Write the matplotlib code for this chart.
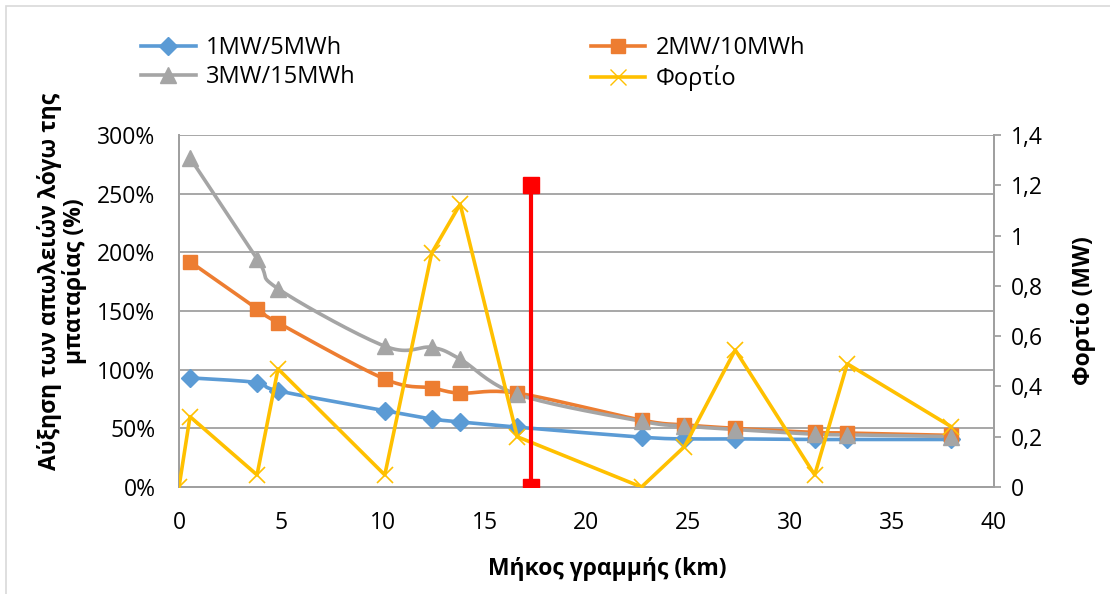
import numpy as np
import matplotlib
matplotlib.use("Agg")
import matplotlib.pyplot as plt
from matplotlib.lines import Line2D
from matplotlib.ticker import FuncFormatter, MultipleLocator

plt.rcParams['font.family'] = ['Open Sans', 'DejaVu Sans']

# line length (km) for each battery case
length_km = [0.54, 3.83, 4.86, 10.1, 12.4, 13.8, 16.6, 22.7, 24.8, 27.3, 31.2, 32.8, 37.9]
loss_1mw = [93, 89, 82, 65, 58, 55.5, 51, 42.5, 41, 41, 40.5, 40.5, 40.5]
loss_2mw = [192, 152, 140, 92, 84.5, 80, 80, 57, 53, 50, 46.5, 46, 44]
loss_3mw = [280.5, 194.5, 169, 120, 119, 109, 79, 56, 52, 49, 45, 44.5, 43]

load_km = [0, 0.54, 3.83, 4.86, 10.1, 12.4, 13.8, 16.6, 22.7, 24.8, 27.3, 31.2, 32.8, 37.9]
load_mw = [0, 0.28, 0.048, 0.47, 0.048, 0.93, 1.125, 0.2, 0, 0.16, 0.545, 0.048, 0.49, 0.24]

marker_km = [17.28, 17.28]
marker_mw = [0, 1.2]

labels = ['1MW/5MWh', '2MW/10MWh', '3MW/15MWh', 'Φορτίο']

W, H = 1110, 594
fig = plt.figure(figsize=(W / 100, H / 100), dpi=100)
ax_box = [179 / W, 1 - 487 / H, (994 - 179) / W, (487 - 135) / H]
ax = fig.add_axes(ax_box)
ax2 = ax.twinx()

xmax, ymax = 40, 300
sx = ax_box[2] * W / xmax
sy = ax_box[3] * H / ymax


def smooth(x, y, n=20):
    # Excel-like smoothed line (Catmull-Rom style bezier), in pixel space
    p = np.column_stack([np.asarray(x) * sx, np.asarray(y) * sy])
    pts = [p[0]]
    for i in range(len(p) - 1):
        p0 = p[i - 1] if i > 0 else p[i]
        p3 = p[i + 2] if i + 2 < len(p) else p[i + 1]
        c1 = p[i] + (p[i + 1] - p0) / 6
        c2 = p[i + 1] - (p3 - p[i]) / 6
        t = np.linspace(0, 1, n)[1:, None]
        seg = ((1 - t) ** 3) * p[i] + 3 * ((1 - t) ** 2) * t * c1 + 3 * (1 - t) * t ** 2 * c2 + t ** 3 * p[i + 1]
        pts.extend(seg)
    pts = np.array(pts)
    return pts[:, 0] / sx, pts[:, 1] / sy


blue, orange, gray, yellow = '#5B9BD5', '#ED7D31', '#A5A5A5', '#FFC000'
lw = 2.6
series = [
    (loss_1mw, blue, 'D', 9),
    (loss_2mw, orange, 's', 10),
    (loss_3mw, gray, '^', 11),
]
for vals, c, m, ms in series:
    xs, ys = smooth(length_km, vals)
    ax.plot(xs, ys, color=c, lw=lw, zorder=3)
    ax.plot(length_km, vals, ls='none', marker=m, ms=ms, color=c, zorder=4)

ax2.plot(load_km, load_mw, color=yellow, lw=lw, marker='x', ms=11, mew=1.2, zorder=5)
ax2.plot(marker_km, marker_mw, color='#FF0000', lw=3, marker='s', ms=11, zorder=6)

ax.set_xlim(0, xmax)
ax.set_ylim(0, ymax)
ax2.set_ylim(0, 1.4)
ax.xaxis.set_major_locator(MultipleLocator(5))
ax.yaxis.set_major_locator(MultipleLocator(50))
ax2.yaxis.set_major_locator(MultipleLocator(0.2))
ax.yaxis.set_major_formatter(FuncFormatter(lambda v, p: f'{v:.0f}%'))
ax2.yaxis.set_major_formatter(FuncFormatter(lambda v, p: f'{v:.1f}'.rstrip('0').rstrip('.').replace('.', ',') if v else '0'))

ax.grid(axis='y', color='#A0A0A0', lw=1.3)
ax.set_axisbelow(True)
for a in (ax, ax2):
    for s in a.spines.values():
        s.set_color('#A0A0A0')
        s.set_linewidth(1.3)
    a.spines['top'].set_visible(False)
fs = 16.5
ax.tick_params(axis='both', length=0, labelsize=fs, colors='black')
ax.tick_params(axis='y', pad=17)
ax.tick_params(axis='x', pad=17)
ax2.tick_params(axis='y', length=5, width=1.3, color='#A0A0A0', labelsize=fs, pad=7)

ax.set_xlabel('Μήκος γραμμής (km)', fontsize=fs, fontweight='bold')
ax.xaxis.set_label_coords(0.525, -0.198)
ax.set_ylabel('Αύξηση των απωλειών λόγω της\nμπαταρίας (%)', fontsize=fs, fontweight='bold', linespacing=1.0)
ax.yaxis.set_label_coords(-0.113, 0.585)
ax2.set_ylabel('Φορτίο (MW)', fontsize=fs, fontweight='bold')
ax2.yaxis.set_label_coords(1.094, 0.5)

handles = [
    Line2D([], [], color=blue, lw=lw, marker='D', ms=9),
    Line2D([], [], color=gray, lw=lw, marker='^', ms=11),
    Line2D([], [], color=orange, lw=lw, marker='s', ms=10),
    Line2D([], [], color=yellow, lw=lw, marker='x', ms=11),
]
fig.legend(handles, [labels[0], labels[2], labels[1], labels[3]], ncol=2, frameon=False,
           loc='upper left', bbox_to_anchor=(120 / W, 1 - 15 / H), fontsize=17,
           handlelength=2.3, handletextpad=0.45, columnspacing=9.95, labelspacing=0.2)

fig.patches.append(plt.Rectangle((6 / W, -0.05), 1.2, 1 - 6 / H + 0.05, transform=fig.transFigure,
                                 fill=False, edgecolor='#D9D9D9', lw=1.2))

fig.savefig('out.png', dpi=100)
